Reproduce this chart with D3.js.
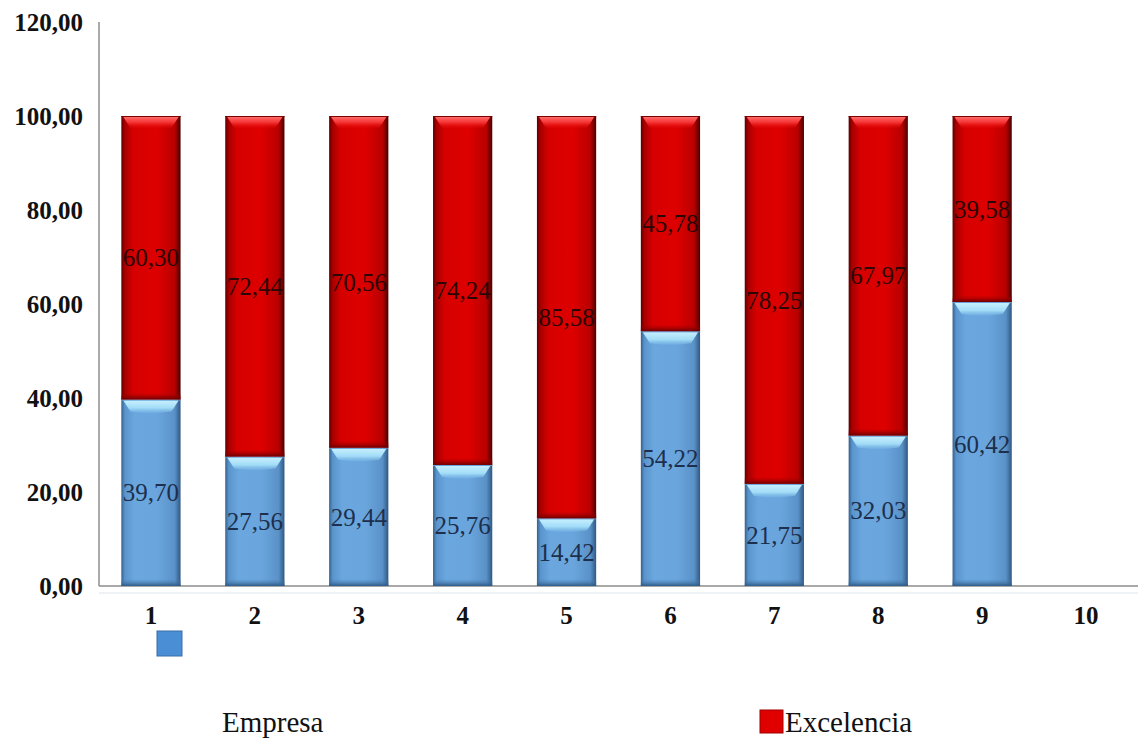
<!DOCTYPE html>
<html>
<head>
<meta charset="utf-8">
<script src="https://cdn.jsdelivr.net/npm/d3@7"></script>
<style>
  html, body { margin: 0; padding: 0; background: #ffffff; }
  svg { display: block; }
  text { font-family: "Liberation Serif", "Times New Roman", serif; }
</style>
</head>
<body>
<svg id="chart" width="1138" height="741"></svg>
<script>
// Categories and stacked series (percent shares)
const categories = ["1", "2", "3", "4", "5", "6", "7", "8", "9", "10"];
const empresa    = [39.70, 27.56, 29.44, 25.76, 14.42, 54.22, 21.75, 32.03, 60.42, null];
const excelencia = [60.30, 72.44, 70.56, 74.24, 85.58, 45.78, 78.25, 67.97, 39.58, null];
const seriesNames = ["Empresa", "Excelencia"];
const yTicks = [0, 20, 40, 60, 80, 100, 120];

const svg = d3.select("#chart");
const fmt = v => d3.format(".2f")(v).replace(".", ",");

const x = d3.scaleBand()
  .domain(categories)
  .range([99, 1138])
  .paddingInner(0.43)
  .paddingOuter(0.215);

const y = d3.scaleLinear().domain([0, 120]).range([586, 22]);

const defs = svg.append("defs");

function hGrad(id, stops) {
  const g = defs.append("linearGradient").attr("id", id)
    .attr("x1", "0%").attr("x2", "100%").attr("y1", "0%").attr("y2", "0%");
  stops.forEach(([o, c]) => g.append("stop").attr("offset", o).attr("stop-color", c));
}
function vGrad(id, stops) {
  const g = defs.append("linearGradient").attr("id", id)
    .attr("x1", "0%").attr("x2", "0%").attr("y1", "0%").attr("y2", "100%");
  stops.forEach(([o, c, op]) => g.append("stop").attr("offset", o).attr("stop-color", c)
    .attr("stop-opacity", op == null ? 1 : op));
}

hGrad("redBody", [[0, "#5e0000"], [0.06, "#a80000"], [0.2, "#d60000"], [0.6, "#de0000"], [0.9, "#b80000"], [1, "#4a0000"]]);
hGrad("blueBody", [[0, "#35618c"], [0.06, "#5a94cc"], [0.22, "#6aa7de"], [0.6, "#6aa6dd"], [0.9, "#5a92c8"], [1, "#2f5882"]]);
vGrad("redCap", [[0, "#ff6a6a"], [0.45, "#f43030"], [1, "#e00000", 0]]);
vGrad("blueCap", [[0, "#c6f0ff"], [0.6, "#a2dcf7"], [1, "#7fbbe9", 0.4]]);
vGrad("redFoot", [[0, "#b00000", 0], [1, "#6a0000"]]);
vGrad("blueFoot", [[0, "#4a80b5", 0], [1, "#2e5a86"]]);

// Axes lines
svg.append("line").attr("x1", 99).attr("x2", 99).attr("y1", y(120)).attr("y2", y(0))
  .attr("stroke", "#8c8c8c").attr("stroke-width", 1.5);
svg.append("line").attr("x1", 99).attr("x2", 1138).attr("y1", y(0)).attr("y2", y(0))
  .attr("stroke", "#8c8c8c").attr("stroke-width", 1.5);
svg.append("line").attr("x1", 99).attr("x2", 1138).attr("y1", y(0) + 7).attr("y2", y(0) + 7)
  .attr("stroke", "#eef2f4").attr("stroke-width", 2);

// Y tick labels
const yAxis = d3.axisLeft(y).tickValues(yTicks).tickSize(0).tickPadding(16).tickFormat(fmt);
const gy = svg.append("g").attr("transform", "translate(99,0)").call(yAxis);
gy.select(".domain").remove();
gy.selectAll("text")
  .attr("font-size", 25).attr("font-weight", "bold").attr("fill", "#111");

// X tick labels
const xAxis = d3.axisBottom(x).tickSize(0).tickPadding(20);
const gx = svg.append("g").attr("transform", `translate(0,${y(0)})`).call(xAxis);
gx.select(".domain").remove();
gx.selectAll("text")
  .attr("font-size", 25).attr("font-weight", "bold").attr("fill", "#111");

// Stacked data
const rows = categories.map((c, i) => ({ cat: c, Empresa: empresa[i], Excelencia: excelencia[i] }))
  .filter(r => r.Empresa != null);
const stack = d3.stack().keys(seriesNames)(rows);

const style = {
  Empresa:    { body: "url(#blueBody)", cap: "url(#blueCap)", foot: "url(#blueFoot)", label: "#1d2f4d", edge: "#6aa6dd" },
  Excelencia: { body: "url(#redBody)",  cap: "url(#redCap)",  foot: "url(#redFoot)",  label: "#2b0606", edge: "#7a0000" }
};

stack.forEach(layer => {
  const st = style[layer.key];
  const g = svg.append("g").attr("class", "series-" + layer.key);
  layer.forEach(d => {
    const x0 = x(d.data.cat), w = x.bandwidth();
    const yTop = y(d[1]), yBot = y(d[0]);
    const h = yBot - yTop;
    g.append("rect").attr("x", x0).attr("y", yTop).attr("width", w).attr("height", h)
      .attr("fill", st.body);
    // darker foot band at the base of each segment
    g.append("rect").attr("x", x0).attr("y", yBot - 7).attr("width", w).attr("height", 7)
      .attr("fill", st.foot);
    // bevelled highlight cap at the top of each segment
    const capH = 12;
    g.append("path")
      .attr("d", `M${x0 + 2},${yTop + 1} L${x0 + w - 2},${yTop + 1} L${x0 + w - 9},${yTop + capH} Q${x0 + w / 2},${yTop + capH + 3} ${x0 + 9},${yTop + capH} Z`)
      .attr("fill", st.cap);
    g.append("line").attr("x1", x0).attr("x2", x0 + w).attr("y1", yTop + 0.5).attr("y2", yTop + 0.5)
      .attr("stroke", st.edge).attr("stroke-width", 1);
  });
});

// Value labels centred in each segment
stack.forEach(layer => {
  const st = style[layer.key];
  svg.append("g").selectAll("text").data(layer).join("text")
    .attr("x", d => x(d.data.cat) + x.bandwidth() / 2)
    .attr("y", d => y((d[0] + d[1]) / 2))
    .attr("dy", "0.35em")
    .attr("text-anchor", "middle")
    .attr("font-size", 25)
    .attr("fill", st.label)
    .text(d => fmt(d.data[layer.key]));
});

// Legend
const leg = svg.append("g").attr("class", "legend");
leg.append("rect").attr("x", 157).attr("y", 631).attr("width", 25).attr("height", 25)
  .attr("fill", "#4a8fd6").attr("stroke", "#3a6ea6").attr("stroke-width", 1);
leg.append("text").attr("x", 222).attr("y", 732).attr("font-size", 29).attr("fill", "#111")
  .text(seriesNames[0]);
leg.append("rect").attr("x", 760).attr("y", 710).attr("width", 23).attr("height", 23)
  .attr("fill", "#e00000").attr("stroke", "#a00000").attr("stroke-width", 1);
leg.append("text").attr("x", 785).attr("y", 732).attr("font-size", 29).attr("fill", "#111")
  .text(seriesNames[1]);
</script>
</body>
</html>
